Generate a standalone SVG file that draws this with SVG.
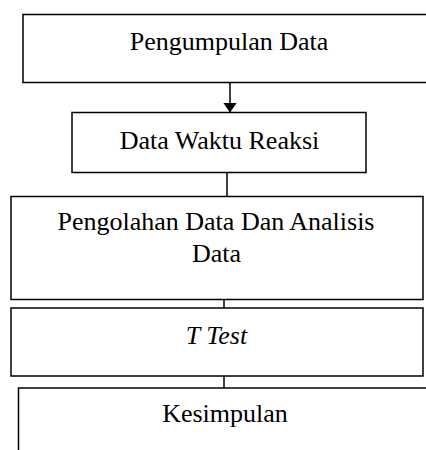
<svg xmlns="http://www.w3.org/2000/svg" width="426" height="450" viewBox="0 0 426 450">
<style>
.box{fill:#fff;stroke:#000;stroke-width:1.5}
.t{font-family:"Liberation Serif","Times New Roman",serif;font-size:26px;fill:#000;text-anchor:middle}
.c{stroke:#000;stroke-width:1.5;fill:none}
</style>
<defs>
<marker id="ah" markerUnits="userSpaceOnUse" markerWidth="11" markerHeight="14" refX="10" refY="7" orient="auto">
<path d="M0,0 L10,7 L0,14 Z" fill="#000"/>
</marker>
</defs>
<g id="n1"><rect class="box" x="23" y="14.5" width="420" height="68"/><text class="t" x="229" y="50">Pengumpulan Data</text></g>
<g id="n2"><rect class="box" x="72" y="112.5" width="294" height="60"/><text class="t" x="219.5" y="149">Data Waktu Reaksi</text></g>
<g id="n3"><rect class="box" x="11" y="196.5" width="412" height="103"/><text class="t" x="216" y="230">Pengolahan Data Dan Analisis</text><text class="t" x="216.5" y="261.5">Data</text></g>
<g id="n4"><rect class="box" x="11" y="308" width="412" height="68"/><text class="t" x="216.5" y="344" font-style="italic">T Test</text></g>
<g id="n5"><rect class="box" x="18.5" y="388" width="420" height="80"/><text class="t" x="225" y="421.5">Kesimpulan</text></g>
<g id="connectors">
<line class="c" x1="230" y1="82.5" x2="230" y2="112.5" marker-end="url(#ah)"/>
<line class="c" x1="227" y1="172.5" x2="227" y2="196.5"/>
<line class="c" x1="224" y1="299.5" x2="224" y2="308"/>
<line class="c" x1="224" y1="376" x2="224" y2="388"/>
</g>
</svg>
